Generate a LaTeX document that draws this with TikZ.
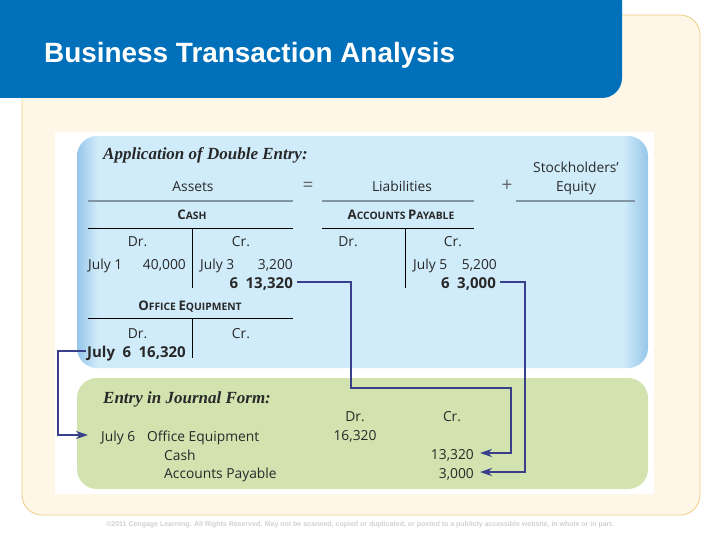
\documentclass[tikz,border=0pt]{standalone}
\usetikzlibrary{arrows.meta}
\usepackage{fontspec}
\setmainfont{Open Sans}
\newfontfamily\titlefont{Liberation Sans}
\newfontfamily\headfont{Liberation Serif}
\definecolor{headerblue}{RGB}{0,112,186}
\definecolor{creamfill}{RGB}{254,247,232}
\definecolor{creamline}{RGB}{240,205,130}
\definecolor{paleblue}{RGB}{208,236,250}
\definecolor{edgeblue}{RGB}{150,198,232}
\definecolor{palegreen}{RGB}{210,227,176}
\definecolor{rulegray}{RGB}{130,150,165}
\definecolor{linkblue}{RGB}{58,63,140}
\definecolor{inkgray}{RGB}{40,40,40}
\pgfdeclarehorizontalshading{bluepanel}{100bp}{
    color(0bp)=(edgeblue); color(25bp)=(edgeblue); color(26.8bp)=(paleblue); color(72.8bp)=(paleblue); color(75bp)=(edgeblue); color(100bp)=(edgeblue)}
\newcommand{\capsname}[2]{{\fontsize{13.2}{14}\selectfont #1}{\fontsize{10.3}{14}\selectfont #2}}
\begin{document}
\begin{tikzpicture}[
            x=1pt, y=-1pt,
            body/.style={inner sep=0pt, text height=12pt, text depth=0pt, text=inkgray, font=\fontsize{13.8}{15}\selectfont},
            item/.style={body, anchor=base west},
            amount/.style={body, anchor=base east},
            label/.style={body, anchor=base},
            symbol/.style={label, text=black!60, font=\fontsize{19}{20}\selectfont},
            boldamount/.style={amount, font=\fontsize{15}{16}\selectfont\bfseries},
            account/.style={label, font=\bfseries},
            heading/.style={item, font=\headfont\fontsize{17}{18}\selectfont\bfseries\itshape},
            title/.style={inner sep=0pt, anchor=base west, text=white, font=\titlefont\fontsize{27.9}{30}\selectfont\bfseries},
            note/.style={inner sep=0pt, text=black!18, font=\titlefont\fontsize{7}{8}\selectfont\bfseries},
            toprule/.style={rulegray, line width=1.4pt},
            thinrule/.style={black, line width=0.7pt},
            link/.style={linkblue, line width=1.5pt, -{Stealth[length=12pt, width=8pt]}}
        ]
            \useasboundingbox (0,0) rectangle (720,540);
            \fill [white] (0,0) rectangle (720,540);
            \draw [creamline, fill=creamfill, rounded corners=20pt, line width=0.8pt] (22,15) rectangle (700,515);
            \fill [white] (55,132) rectangle (654,494);
            \shade [shading=bluepanel, rounded corners=20pt] (77,136) rectangle (648,368);
            \fill [palegreen, rounded corners=20pt] (77,378) rectangle (648,489);
            \fill [headerblue] (0,0) -- (622,0) [rounded corners=20pt] -- (622,98) [sharp corners] -- (0,98) -- cycle;

            \node (title) [title] at (44,63) {Business Transaction Analysis};
            \node (application) [heading] at (103,160) {Application of Double Entry:};
            \node (assets) [label] at (193,192) {Assets};
            \node (equals) [symbol] at (308,192) {=};
            \node (liabilities) [label] at (402,192) {Liabilities};
            \node (plus) [symbol] at (507,192) {+};
            \node (stockholders) [label] at (576,173) {Stockholders’};
            \node (equity) [label] at (576,192) {Equity};

            \node (cash) [account] at (192,219) {\capsname{C}{ASH}};
            \node (cashdr) [label] at (137.5,247) {Dr.};
            \node (cashcr) [label] at (241,247) {Cr.};
            \node (cashdate) [item] at (88,269) {July 1};
            \node (cashdebit) [amount] at (186,269) {40,000};
            \node (cashdateb) [item] at (200,269) {July 3};
            \node (cashcredit) [amount] at (293,269) {3,200};
            \node (cashnew) [boldamount] at (293,288) {6\hspace{0.5em}13,320};

            \node (office) [account] at (190,310) {\capsname{O}{FFICE} \capsname{E}{QUIPMENT}};
            \node (officedr) [label] at (137.5,338) {Dr.};
            \node (officecr) [label] at (241,338) {Cr.};
            \node (officenew) [boldamount] at (186,357) {July\hspace{0.5em}6\hspace{0.5em}16,320};

            \node (payable) [account] at (401,220) {\capsname{A}{CCOUNTS} \capsname{P}{AYABLE}};
            \node (payabledr) [label] at (348,247) {Dr.};
            \node (payablecr) [label] at (453,247) {Cr.};
            \node (payabledate) [item] at (413,269) {July 5};
            \node (payablecredit) [amount] at (497,269) {5,200};
            \node (payablenew) [boldamount] at (496,288) {6\hspace{0.5em}3,000};

            \node (entry) [heading] at (103,403) {Entry in Journal Form:};
            \node (entrydr) [label] at (355,421) {Dr.};
            \node (entrycr) [label] at (452,421) {Cr.};
            \node (entrydate) [item] at (101,441) {July 6};
            \node (entryoffice) [item] at (147,441) {Office Equipment};
            \node (entrycash) [item] at (164,460) {Cash};
            \node (entrypayable) [item] at (164,478) {Accounts Payable};
            \node (entrydebit) [label] at (355,440) {16,320};
            \node (entrycredit) [amount] at (474,459) {13,320};
            \node (entrythree) [amount] at (474,478) {3,000};

            \node (copyright) [note] at (360,525) {©2011 Cengage Learning. All Rights Reserved. May not be scanned, copied or duplicated, or posted to a publicly accessible website, in whole or in part.};

            \draw [toprule] (88,201) -- (293,201);
            \draw [toprule] (322,201) -- (474,201);
            \draw [toprule] (516,201) -- (635,201);
            \draw [thinrule] (88,228) -- (293,228);
            \draw [thinrule] (192,228) -- (192,288);
            \draw [thinrule] (322,228) -- (474,228);
            \draw [thinrule] (405,228) -- (405,288);
            \draw [thinrule] (88,318) -- (293,318);
            \draw [thinrule] (192,318) -- (192,358);

            \coordinate (cashbend) at (351,388);
            \coordinate (cashdrop) at (511,420);
            \coordinate (payabledrop) at (525,400);
            \coordinate (officedrop) at (58,395);

            \draw [link, shorten <=4pt, shorten >=6pt] (cashnew.east) -| (cashbend) -| (cashdrop) |- (entrycredit.east);
            \draw [link, shorten <=4pt, shorten >=6pt] (payablenew.east) -| (payabledrop) |- (entrythree.east);
            \draw [link, shorten <=1pt, shorten >=13pt] (officenew.west) -| (officedrop) |- (entrydate.west);
        \end{tikzpicture}
\end{document}
